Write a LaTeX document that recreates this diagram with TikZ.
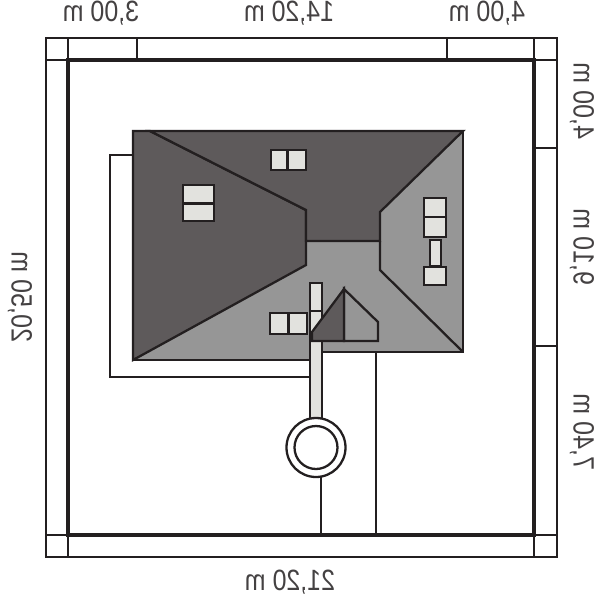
\documentclass[tikz,border=0pt]{standalone}
\usepackage{fontspec}
\setmainfont{Liberation Sans}
\definecolor{inkline}{HTML}{231F20}
\definecolor{roofdark}{HTML}{5E5A5B}
\definecolor{roofgray}{HTML}{969696}
\definecolor{paleglass}{HTML}{E2E2DE}
\tikzset{>=stealth}
\tikzset{thinline/.style={draw=inkline, line width=0.75pt},
  plotline/.style={draw=inkline, line width=2.8pt, line join=miter},
  roofedge/.style={draw=inkline, line width=1.3pt, line join=miter},
  glass/.style={draw=inkline, fill=paleglass, line width=1.6pt},
  toplabel/.style={xscale=-0.85, font=\fontsize{16.7}{16.7}\selectfont, color=inkline!85, inner sep=0pt},
  sidelabel/.style={xscale=-1, yscale=0.85, rotate=90, font=\fontsize{16.7}{16.7}\selectfont, color=inkline!85, inner sep=0pt}}
\begin{document}
\begin{tikzpicture}[x=0.02cm, y=-0.02cm]
\useasboundingbox (0,0) rectangle (600,600);
\fill[white] (0,0) rectangle (600,600);
% dimension frame
\draw[thinline] (46,38) rectangle (557,557);
\draw[thinline] (68,38)--(68,60) (137,38)--(137,60) (447,38)--(447,60) (534,38)--(534,60);
\draw[thinline] (68,535)--(68,557) (534,535)--(534,557);
\draw[thinline] (46,60)--(68,60) (46,535)--(68,535);
\draw[thinline] (534,60)--(557,60) (534,148)--(557,148) (534,346)--(557,346) (534,535)--(557,535);
% plot
\draw[plotline] (68,60) rectangle (534,535);
% drive and terrace
\draw[roofedge] (133,155)--(110,155)--(110,377)--(310,377);
\draw[roofedge] (376,352)--(376,535);
\draw[roofedge] (321,476)--(321,535);
% roof
\filldraw[roofedge, fill=roofgray] (133,131)--(463,131)--(463,352)--(316,352)--(316,360)--(133,360)--cycle;
\filldraw[roofedge, fill=roofdark] (133,131)--(150,131)--(306,210)--(306,265)--(133,360)--cycle;
\filldraw[roofedge, fill=roofdark] (150,131)--(463,131)--(380,212)--(380,241)--(306,241)--(306,210)--cycle;
\draw[roofedge] (380,241)--(380,270)--(463,352);
% windows
\draw[glass] (271,150) rectangle (287,170);
\draw[glass] (288,150) rectangle (306,170);
\draw[glass] (183,185) rectangle (214,203);
\draw[glass] (183,204) rectangle (214,221);
\draw[glass] (424,198) rectangle (446,217);
\draw[glass] (424,217) rectangle (446,237);
\draw[glass] (430,240) rectangle (441,266);
\draw[glass] (424,267) rectangle (446,285);
\draw[glass] (270,313) rectangle (288,334);
\draw[glass] (289,313) rectangle (307,334);
% path and well
\draw[glass, line width=1.3pt] (310,283) rectangle (322,422);
\draw[roofedge] (310,311)--(322,311);
\filldraw[roofedge, fill=roofgray] (344,289)--(378,322)--(378,341)--(344,341)--cycle;
\filldraw[roofedge, fill=roofdark] (344,289)--(344,341)--(312,341)--(312,332)--cycle;
\draw[line width=1.3pt, draw=inkline, fill=white] (316,447.5) circle (29.5);
\draw[roofedge, fill=white] (316,447.5) circle (21.5);
% labels
\node[toplabel] (w1) at (101,13) {3,00 m};
\node[toplabel] (w2) at (289,13) {14,20 m};
\node[toplabel] (w3) at (487,13) {4,00 m};
\node[toplabel] (w4) at (290,582) {21,20 m};
\node[sidelabel] (h1) at (582,101) {4,00 m};
\node[sidelabel] (h2) at (582,247) {9,10 m};
\node[sidelabel] (h3) at (582,432) {7,40 m};
\node[sidelabel] (h4) at (20,297) {20,50 m};
\end{tikzpicture}
\end{document}
